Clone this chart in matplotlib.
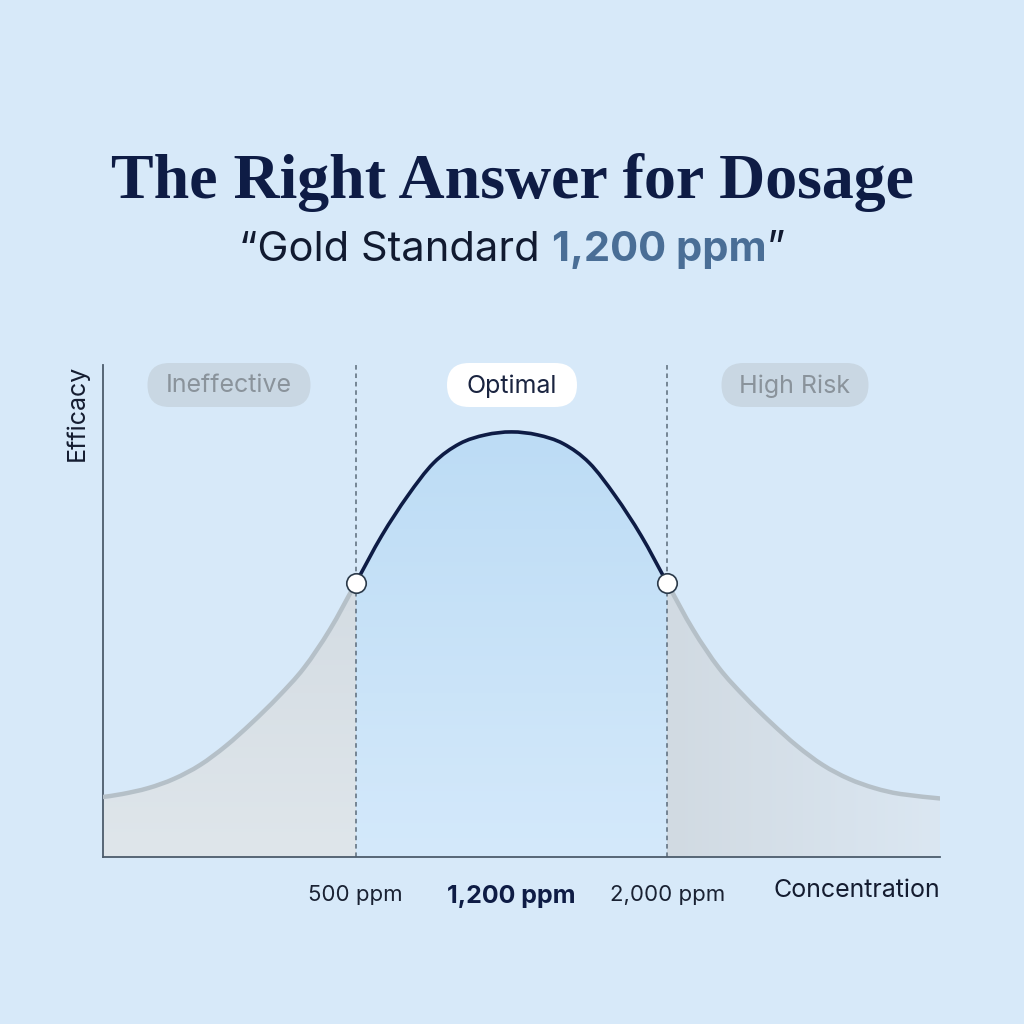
import numpy as np
import matplotlib.pyplot as plt
from matplotlib.path import Path
from matplotlib.patches import PathPatch, Rectangle, FancyBboxPatch
from matplotlib.colors import LinearSegmentedColormap

plt.rcParams['font.family'] = ['Inter', 'DejaVu Sans']

# efficacy curve (x = position along concentration axis, y = efficacy %)
curve_x = [0.0, 0.23, 0.54, 0.85, 1.16, 1.47, 1.78, 2.09, 2.40, 2.71, 3.02,
           3.33, 3.64, 3.95, 4.26, 4.57, 4.88, 5.19, 5.50, 5.81, 6.12,
           6.43, 6.74, 7.05, 7.36, 7.67, 7.98, 8.29, 8.60, 8.91, 9.22,
           9.53, 10.0]
curve_y = [12.2, 12.8, 14.0, 15.9, 18.7, 22.6, 27.3, 32.5, 38.4, 46.2, 55.7,
           65.3, 73.4, 80.1, 84.0, 85.8, 86.4, 85.8, 84.0, 80.1, 73.4,
           65.3, 55.7, 46.2, 38.4, 32.5, 27.3, 22.6, 18.7, 15.9, 14.0,
           12.8, 11.9]

zone_low, zone_peak, zone_high = 3.02, 4.88, 6.74
tick_pos = [zone_low, zone_peak, zone_high]
tick_labels = ['500 ppm', '1,200 ppm', '2,000 ppm']
zone_names = ['Ineffective', 'Optimal', 'High Risk']

BG = '#d7e9f9'
NAVY = '#0e1c45'


def smooth_path(xs, ys):
    pts = np.column_stack([xs, ys])
    n = len(pts)
    verts = [pts[0]]
    codes = [Path.MOVETO]
    for i in range(n - 1):
        p0 = pts[max(i - 1, 0)]
        p1 = pts[i]
        p2 = pts[i + 1]
        p3 = pts[min(i + 2, n - 1)]
        verts += [p1 + (p2 - p0) / 6, p2 - (p3 - p1) / 6, p2]
        codes += [Path.CURVE4] * 3
    return verts, codes


verts, codes = smooth_path(curve_x, curve_y)
line_path = Path(verts, codes)
fill_path = Path(verts + [(curve_x[-1], 0), (curve_x[0], 0), (0, 0)],
                 codes + [Path.LINETO, Path.LINETO, Path.CLOSEPOLY])

fig = plt.figure(figsize=(10.24, 10.24), dpi=100)
fig.patch.set_facecolor(BG)
ax = fig.add_axes([103 / 1024, 1 - 857 / 1024, 837 / 1024, 492 / 1024])
ax.set_facecolor('none')
ax.set_xlim(0, 10)
ax.set_ylim(0, 100)


def gradient_fill(x0, x1, c0, c1, horizontal):
    cmap = LinearSegmentedColormap.from_list('g', [c0, c1])
    grad = np.linspace(0, 1, 256)
    img = grad[None, :] if horizontal else grad[:, None]
    im = ax.imshow(img, cmap=cmap, extent=[x0, x1, 0, 100], origin='lower',
                   aspect='auto', zorder=1, interpolation='bicubic')
    patch = PathPatch(fill_path, transform=ax.transData, facecolor='none', edgecolor='none')
    ax.add_patch(patch)
    im.set_clip_path(patch)


gradient_fill(0, zone_low, '#dfe6eb', '#cbd4dc', False)
gradient_fill(zone_low, zone_high, '#d4e9fb', '#b9daf4', False)
gradient_fill(zone_high, curve_x[-1], '#d1dae2', '#dbe7f2', True)

# curve: gray outside optimal zone, navy inside
for x0, x1, col, lw in [(0, zone_low, '#b5c0c8', 3.2), (zone_high, 10, '#b5c0c8', 3.2),
                        (zone_low, zone_high, NAVY, 2.6)]:
    p = PathPatch(line_path, transform=ax.transData, facecolor='none',
                  edgecolor=col, lw=lw, zorder=3, capstyle='round')
    ax.add_patch(p)
    clip = Rectangle((x0, -5), x1 - x0, 110, transform=ax.transData)
    p.set_clip_path(clip)

for xv in [zone_low, zone_high]:
    ax.axvline(xv, color='#5b6b7a', lw=1.1, ls=(0, (3, 2.5)), zorder=2)

ax.plot([zone_low, zone_high], [curve_y[curve_x.index(zone_low)], curve_y[curve_x.index(zone_high)]],
        ls='none', marker='o', ms=14, mfc='white', mec='#2b3a4a', mew=1.2, zorder=5)

for side in ['top', 'right']:
    ax.spines[side].set_visible(False)
for side in ['left', 'bottom']:
    ax.spines[side].set_color('#4c5c6c')
    ax.spines[side].set_linewidth(1.3)
ax.set_yticks([])
ax.set_xticks(tick_pos)
ax.set_xticklabels(tick_labels)
ax.tick_params(axis='x', length=0, pad=20, labelsize=16, labelcolor='#1a2233')
ax.get_xticklabels()[1].set_fontweight('bold')
ax.get_xticklabels()[1].set_fontsize(18)
ax.get_xticklabels()[1].set_color(NAVY)

ax.text(1.0, -0.068, 'Concentration', transform=ax.transAxes, ha='right', va='center',
        fontsize=18, color='#141c30')
ax.text(-0.031, 1.0, 'Efficacy', transform=ax.transAxes, rotation=90, ha='center', va='top',
        fontsize=18, color='#141c30')

# zone pills
pills = [(229, 163, '#c9d7e3', '#8a939b'), (512, 130, 'white', '#1a2440'),
         (795, 147, '#c9d7e3', '#8a939b')]
for name, (cx, w, fc, tc) in zip(zone_names, pills):
    h = 44
    box = FancyBboxPatch(((cx - w / 2) / 1024, 1 - 407 / 1024), w / 1024, h / 1024,
                         boxstyle='round,pad=0,rounding_size=%f' % (h / 2 / 1024),
                         transform=fig.transFigure, facecolor=fc, edgecolor='none', zorder=6)
    fig.patches.append(box)
    fig.text(cx / 1024, 1 - 386 / 1024, name, ha='center', va='center', fontsize=18,
             color=tc, zorder=7)

# title
fig.text(0.5, 1 - 182 / 1024, 'The Right Answer for Dosage', ha='center', va='center',
         fontsize=46, fontweight='bold', family='Liberation Serif', color=NAVY)

# subtitle in pieces
renderer = fig.canvas.get_renderer()
parts = [('\u201cGold Standard ', 'normal', '#111a30'), ('1,200 ppm', 'bold', '#4a6e96'),
         ('\u201d', 'normal', '#111a30')]
texts = []
for s, wgt, col in parts:
    texts.append(fig.text(0, 1 - 250 / 1024, s, ha='left', va='center', fontsize=30,
                          fontweight=wgt, color=col))
widths = [t.get_window_extent(renderer).width / 1024 for t in texts]
x = 0.5 - sum(widths) / 2
for t, w in zip(texts, widths):
    t.set_x(x)
    x += w

fig.savefig('out.png', dpi=100, facecolor=BG)
